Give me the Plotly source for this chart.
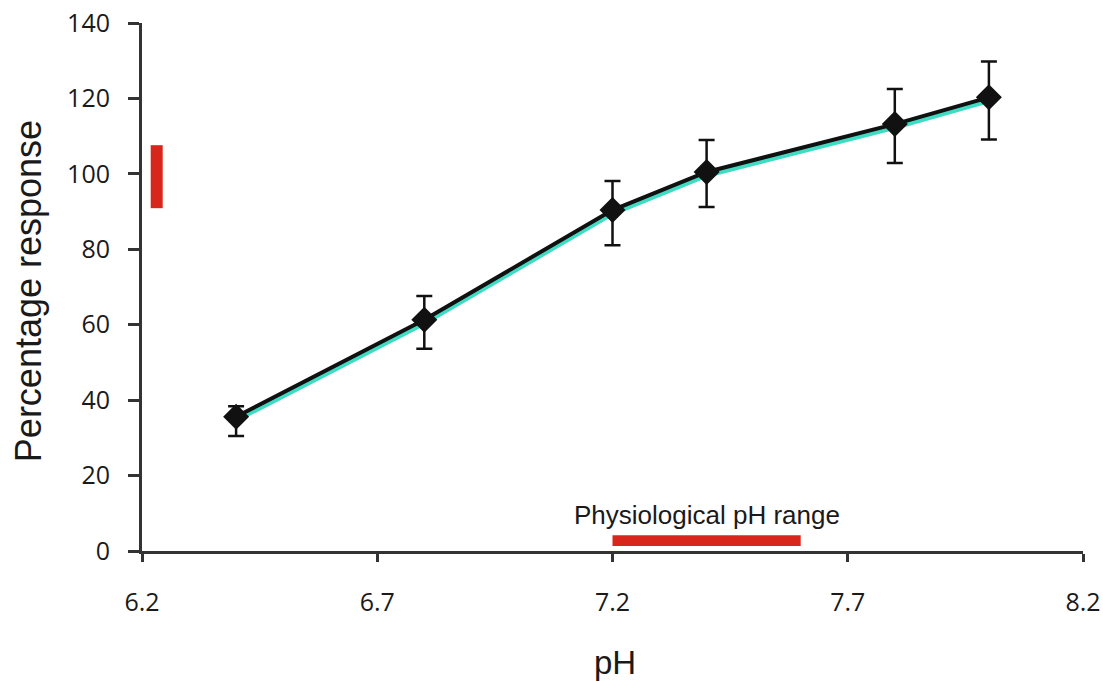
import plotly.graph_objects as go

# Data
ph = [6.4, 6.8, 7.2, 7.4, 7.8, 8.0]
response = [35.6, 61.3, 90.4, 100.5, 113.2, 120.3]
err_upper = [38.4, 67.6, 98.1, 109.0, 122.5, 129.8]
err_lower = [30.5, 53.6, 81.1, 91.2, 102.9, 109.1]

x_ticks = [6.2, 6.7, 7.2, 7.7, 8.2]
x_tick_labels = ["6.2", "6.7", "7.2", "7.7", "8.2"]
y_ticks = [0, 20, 40, 60, 80, 100, 120, 140]

physio_ph = [7.2, 7.6]          # physiological pH range bar (x extent)
physio_bar_y = [1.3, 4.2]       # bar thickness in response units
physio_label = "Physiological pH range"
physio_label_pos = [7.4, 9.6]

ref_bar_x = [6.2185, 6.244]     # vertical red bar (x extent)
ref_bar_y = [90.9, 107.6]       # vertical red bar (y extent)

x_title = "pH"
y_title = "Percentage response"

plus = [u - v for u, v in zip(err_upper, response)]
minus = [v - l for v, l in zip(response, err_lower)]

AX = "#333333"
TXT = "#1a1a1a"
fig = go.Figure()

# turquoise "shadow" line on hidden base axis (slightly shifted range)
fig.add_trace(go.Scatter(
    x=ph, y=response, mode="lines", yaxis="y",
    line=dict(color="#3fdcc4", width=5.5), hoverinfo="skip", showlegend=False))

# black line, markers and error bars on the visible overlay axis
fig.add_trace(go.Scatter(
    x=ph, y=response, mode="lines+markers", yaxis="y2",
    line=dict(color="#111111", width=4),
    marker=dict(symbol="diamond", size=20, color="#111111"),
    error_y=dict(type="data", symmetric=False, array=plus, arrayminus=minus,
                 color="#111111", thickness=2.5, width=8),
    showlegend=False))

fig.add_shape(type="rect", xref="x", yref="y2",
              x0=physio_ph[0], x1=physio_ph[1], y0=physio_bar_y[0], y1=physio_bar_y[1],
              fillcolor="#d9261c", line=dict(width=0), layer="above")
fig.add_shape(type="rect", xref="x", yref="y2",
              x0=ref_bar_x[0], x1=ref_bar_x[1], y0=ref_bar_y[0], y1=ref_bar_y[1],
              fillcolor="#d9261c", line=dict(width=0), layer="above")

fig.add_annotation(x=physio_label_pos[0], y=physio_label_pos[1], xref="x", yref="y2",
                   text=physio_label, showarrow=False,
                   font=dict(family="Liberation Sans, Arial", size=26, color=TXT))

fig.add_annotation(x=0.5027, y=-0.212, xref="paper", yref="paper", text=x_title,
                   showarrow=False, xanchor="center", yanchor="middle",
                   font=dict(family="Liberation Sans, Arial", size=33, color=TXT))
fig.add_annotation(x=-0.121, y=0.4924, xref="paper", yref="paper", text=y_title,
                   showarrow=False, xanchor="center", yanchor="middle", textangle=-90,
                   font=dict(family="Liberation Sans, Arial", size=36, color=TXT))

fig.update_layout(
    width=1103, height=681,
    margin=dict(l=142, r=20, t=23, b=130),
    paper_bgcolor="white", plot_bgcolor="white",
    xaxis=dict(range=[6.2, 8.2], tickvals=x_ticks, ticktext=x_tick_labels,
               showgrid=False, zeroline=False, automargin=False,
               showline=True, linecolor=AX, linewidth=3,
               ticks="outside", ticklen=8, tickwidth=3, tickcolor=AX,
               ticklabelstandoff=19,
               tickfont=dict(family="Open Sans", size=25, color=TXT)),
    yaxis=dict(range=[0.8, 140.8], visible=False, automargin=False),
    yaxis2=dict(range=[0, 140], tickvals=y_ticks, overlaying="y", side="left",
                showgrid=False, zeroline=False, automargin=False,
                showline=True, linecolor=AX, linewidth=3,
                ticks="outside", ticklen=11, tickwidth=3, tickcolor=AX,
                ticklabelstandoff=13,
                tickfont=dict(family="Open Sans", size=25, color=TXT)),
)

fig.write_html("out.html", config={"displayModeBar": False},
               post_script="document.body.style.margin='0';document.body.style.overflow='hidden';")
